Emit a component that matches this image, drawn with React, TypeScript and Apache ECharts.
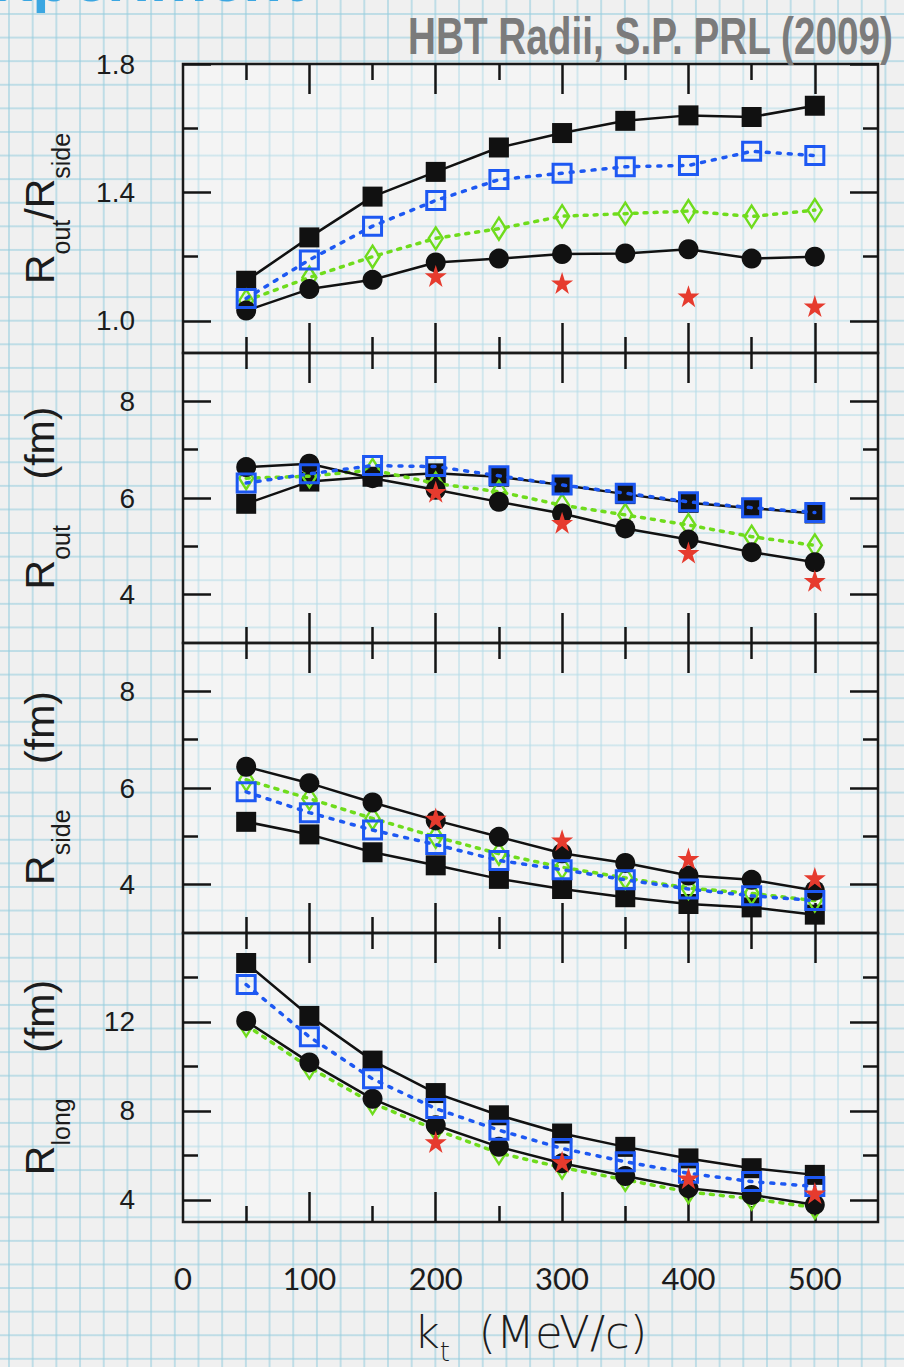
import React, { useEffect, useRef } from "react";
import * as echarts from "echarts";

// ---- data ----
const kt = [50, 100, 150, 200, 250, 300, 350, 400, 450, 500];
const ktStar = [200, 300, 400, 500];

const ratioSqBlack = [1.125, 1.26, 1.387, 1.464, 1.54, 1.585, 1.623, 1.64, 1.635, 1.67];
const ratioSqBlue = [1.07, 1.19, 1.295, 1.375, 1.44, 1.46, 1.48, 1.484, 1.528, 1.515];
const ratioDiaGreen = [1.063, 1.135, 1.2, 1.257, 1.287, 1.326, 1.334, 1.342, 1.325, 1.345];
const ratioCircBlack = [1.032, 1.099, 1.128, 1.182, 1.194, 1.208, 1.21, 1.223, 1.194, 1.2];
const ratioStar = [1.14, 1.118, 1.077, 1.046];

const outSqBlack = [5.88, 6.34, 6.44, 6.51, 6.44, 6.27, 6.08, 5.9, 5.79, 5.68];
const outSqBlue = [6.31, 6.5, 6.67, 6.65, 6.46, 6.27, 6.1, 5.92, 5.8, 5.7];
const outDiaGreen = [6.41, 6.45, 6.58, 6.3, 6.13, 5.85, 5.65, 5.44, 5.2, 5.02];
const outCircBlack = [6.64, 6.71, 6.41, 6.17, 5.92, 5.68, 5.37, 5.14, 4.88, 4.67];
const outStar = [6.13, 5.49, 4.87, 4.29];

const sideSqBlack = [5.3, 5.04, 4.67, 4.4, 4.12, 3.91, 3.74, 3.6, 3.53, 3.38];
const sideSqBlue = [5.92, 5.49, 5.13, 4.83, 4.5, 4.31, 4.1, 3.91, 3.77, 3.67];
const sideDiaGreen = [6.17, 5.78, 5.37, 4.99, 4.64, 4.36, 4.14, 3.93, 3.82, 3.67];
const sideCircBlack = [6.44, 6.1, 5.7, 5.33, 4.99, 4.65, 4.45, 4.19, 4.1, 3.88];
const sideStar = [5.37, 4.92, 4.54, 4.14];

const longSqBlack = [14.65, 12.27, 10.26, 8.8, 7.8, 6.98, 6.38, 5.86, 5.42, 5.12];
const longSqBlue = [13.68, 11.33, 9.44, 8.1, 7.13, 6.31, 5.71, 5.19, 4.82, 4.6];
const longDiaGreen = [11.85, 9.95, 8.35, 7.15, 6.1, 5.45, 4.9, 4.35, 4.05, 3.65];
const longCircBlack = [12.04, 10.18, 8.54, 7.35, 6.38, 5.64, 5.07, 4.52, 4.22, 3.78];
const longStar = [6.6, 5.71, 4.97, 4.3];

// axes
const xMin = 0;
const xMax = 550;
const xLabelValues = [0, 100, 200, 300, 400, 500];
const xMajorTicks = [100, 200, 300, 400, 500];
const xMinorTicks = [50, 150, 250, 350, 450];

const panelYMin = [0.9, 3, 3, 3];
const panelYMax = [1.8, 9, 9, 16];
const panelYMajor = [[1.0, 1.4, 1.8], [4, 6, 8], [4, 6, 8], [4, 8, 12]];
const panelYMinor = [[1.2, 1.6], [5, 7], [5, 7], [6, 10, 14]];
const panelYName = [
  "{b|R}{s|out}{b|/R}{s|side}",
  "{b|R}{s|out}{b|    (fm)}",
  "{b|R}{s|side}{b|    (fm)}",
  "{b|R}{s|long}{b|    (fm)}",
];
const xName = "{b|k}{s|t}{b|  (MeV/c)}";
const titleText = "HBT Radii, S.P. PRL (2009)";
const headerText = "Experiment";

const panels = [
  [ratioSqBlack, ratioSqBlue, ratioDiaGreen, ratioCircBlack, ratioStar],
  [outSqBlack, outSqBlue, outDiaGreen, outCircBlack, outStar],
  [sideSqBlack, sideSqBlue, sideDiaGreen, sideCircBlack, sideStar],
  [longSqBlack, longSqBlue, longDiaGreen, longCircBlack, longStar],
];

const STAR =
  "path://M50,0 L61.8,35.3 L98.9,35.3 L68.9,57.1 L80.3,92.7 L50,70.9 L19.7,92.7 L31.1,57.1 L1.1,35.3 L38.2,35.3 Z";

const BLACK = "#111111";
const BLUE = "#1d58f2";
const GREEN = "#6fdc1c";
const RED = "#e63b2e";

export default function App() {
  const ref = useRef<HTMLDivElement>(null);

  useEffect(() => {
    if (!ref.current) return;
    const chart = echarts.init(ref.current, null, { renderer: "svg" });

    const gridTops = [64, 353, 643, 933];
    const gridHeights = [289, 290, 290, 289];

    const grids = gridTops.map((t, i) => ({
      left: 183,
      right: 26,
      top: t,
      height: gridHeights[i],
      containLabel: false,
      outerBoundsMode: "none",
      show: true,
      backgroundColor: "rgba(255,255,255,0.3)",
      borderColor: "#1a1a1a",
      borderWidth: 2.5,
    }));

    const tickStyle = { color: "#141414", width: 2.5 };
    const xAxes: any[] = [];
    const yAxes: any[] = [];
    for (let g = 0; g < 4; g++) {
      const xc = {
        gridIndex: g,
        type: "value",
        min: xMin,
        max: xMax,
        axisLine: { show: false, onZero: false },
        splitLine: { show: false },
      };
      const isBottom = g === 3;
      xAxes.push({
        ...xc,
        position: "bottom",
        axisTick: { show: true, inside: true, length: 30, lineStyle: tickStyle, customValues: xMajorTicks },
        axisLabel: {
          show: isBottom,
          customValues: xLabelValues,
          margin: 40,
          fontSize: 31,
          fontFamily: "Lato",
          color: "#1c1c1c",
        },
        name: isBottom ? xName : "",
        nameLocation: "middle",
        nameGap: 88,
        nameTextStyle: {
          rich: {
            b: { fontSize: 45, lineHeight: 50, verticalAlign: "top", fontFamily: "DejaVu Sans", fontWeight: 300, color: "#1c1c1c" },
            s: { fontSize: 26, lineHeight: 55, verticalAlign: "bottom", fontFamily: "DejaVu Sans", fontWeight: 300, color: "#1c1c1c" },
          },
        },
      });
      xAxes.push({
        ...xc,
        position: "top",
        axisTick: { show: true, inside: true, length: 30, lineStyle: tickStyle, customValues: xMajorTicks },
        axisLabel: { show: false, customValues: xMajorTicks },
      });
      xAxes.push({
        ...xc,
        position: "bottom",
        axisTick: { show: true, inside: true, length: 16, lineStyle: tickStyle, customValues: xMinorTicks },
        axisLabel: { show: false, customValues: xMinorTicks },
      });
      xAxes.push({
        ...xc,
        position: "top",
        axisTick: { show: true, inside: true, length: 16, lineStyle: tickStyle, customValues: xMinorTicks },
        axisLabel: { show: false, customValues: xMinorTicks },
      });

      const yc = {
        gridIndex: g,
        type: "value",
        min: panelYMin[g],
        max: panelYMax[g],
        axisLine: { show: false, onZero: false },
        splitLine: { show: false },
      };
      yAxes.push({
        ...yc,
        position: "left",
        axisTick: { show: true, inside: true, length: 28, lineStyle: tickStyle, customValues: panelYMajor[g] },
        axisLabel: {
          show: true,
          customValues: panelYMajor[g],
          margin: 48,
          fontSize: 28,
          fontFamily: "Liberation Sans",
          color: "#1c1c1c",
          formatter: (v: number) => (g === 0 ? v.toFixed(1) : String(v)),
        },
        name: panelYName[g],
        nameLocation: "middle",
        nameRotate: 90,
        nameGap: 110,
        nameTextStyle: {
          rich: {
            b: { fontSize: 41, lineHeight: 46, verticalAlign: "top", fontFamily: "Liberation Sans", color: "#1c1c1c" },
            s: { fontSize: 25, lineHeight: 54, verticalAlign: "bottom", fontFamily: "Liberation Sans", color: "#1c1c1c" },
          },
        },
      });
      yAxes.push({
        ...yc,
        position: "right",
        axisTick: { show: true, inside: true, length: 28, lineStyle: tickStyle, customValues: panelYMajor[g] },
        axisLabel: { show: false, customValues: panelYMajor[g] },
      });
      yAxes.push({
        ...yc,
        position: "left",
        axisTick: { show: true, inside: true, length: 15, lineStyle: tickStyle, customValues: panelYMinor[g] },
        axisLabel: { show: false, customValues: panelYMinor[g] },
      });
      yAxes.push({
        ...yc,
        position: "right",
        axisTick: { show: true, inside: true, length: 15, lineStyle: tickStyle, customValues: panelYMinor[g] },
        axisLabel: { show: false, customValues: panelYMinor[g] },
      });
    }

    const series: any[] = [];
    panels.forEach((p, g) => {
      const [sqBlack, sqBlue, diaGreen, circBlack, star] = p;
      const base = { type: "line", xAxisIndex: g * 4, yAxisIndex: g * 4, silent: true };
      series.push({
        ...base,
        name: "sqBlack" + g,
        data: kt.map((k, i) => [k, sqBlack[i]]),
        symbol: "rect",
        symbolSize: 20,
        itemStyle: { color: BLACK },
        lineStyle: { color: BLACK, width: 2.5 },
        z: 2,
      });
      series.push({
        ...base,
        name: "diaGreen" + g,
        data: kt.map((k, i) => [k, diaGreen[i]]),
        symbol: "diamond",
        symbolSize: [14, 22],
        showAllSymbol: true,
        itemStyle: { color: "rgba(255,255,255,0)", borderColor: GREEN, borderWidth: 2.5 },
        lineStyle: { color: GREEN, width: 3.5, type: [3, 7], cap: "round" },
        z: 3,
      });
      series.push({
        ...base,
        name: "circBlack" + g,
        data: kt.map((k, i) => [k, circBlack[i]]),
        symbol: "circle",
        symbolSize: 20,
        itemStyle: { color: BLACK },
        lineStyle: { color: BLACK, width: 2.5 },
        z: 4,
      });
      series.push({
        ...base,
        name: "sqBlue" + g,
        data: kt.map((k, i) => [k, sqBlue[i]]),
        symbol: "rect",
        symbolSize: 18,
        itemStyle: { color: "rgba(255,255,255,0)", borderColor: BLUE, borderWidth: 3 },
        lineStyle: { color: BLUE, width: 3.5, type: [3, 8], cap: "round" },
        z: 5,
      });
      series.push({
        ...base,
        type: "scatter",
        name: "star" + g,
        data: ktStar.map((k, i) => [k, star[i]]),
        symbol: STAR,
        symbolSize: 22,
        itemStyle: { color: RED, opacity: 1 },
        z: 6,
      });
    });

    chart.setOption({
      animation: false,
      backgroundColor: "transparent",
      grid: grids,
      xAxis: xAxes,
      yAxis: yAxes,
      series,
      graphic: [
        {
          type: "text",
          x: -42,
          y: 8,
          style: {
            text: headerText,
            fontSize: 68,
            fontWeight: "bold",
            fontFamily: "Lato",
            fill: "#3ba6e1",
            verticalAlign: "bottom",
            align: "left",
          },
        },
        {
          type: "text",
          x: 893,
          y: 36,
          scaleX: 0.745,
          style: {
            text: titleText,
            fontSize: 52,
            fontWeight: "bold",
            fontFamily: "Liberation Sans",
            fill: "#7b7b7b",
            align: "right",
            verticalAlign: "middle",
          },
        },
      ],
    });

    return () => chart.dispose();
  }, []);

  const bg: React.CSSProperties = {
    position: "fixed",
    left: 0,
    top: 0,
    width: 904,
    height: 1367,
    backgroundColor: "#f0f0f0",
    backgroundImage:
      "linear-gradient(to right, rgba(150,205,222,0.55) 1.5px, transparent 1.5px), linear-gradient(to bottom, rgba(150,205,222,0.55) 1.5px, transparent 1.5px)",
    backgroundSize: "23.7px 23.6px",
    backgroundPosition: "8px 13px",
  };

  return (
    <div style={bg}>
      <div ref={ref} style={{ width: 904, height: 1367 }} />
    </div>
  );
}
